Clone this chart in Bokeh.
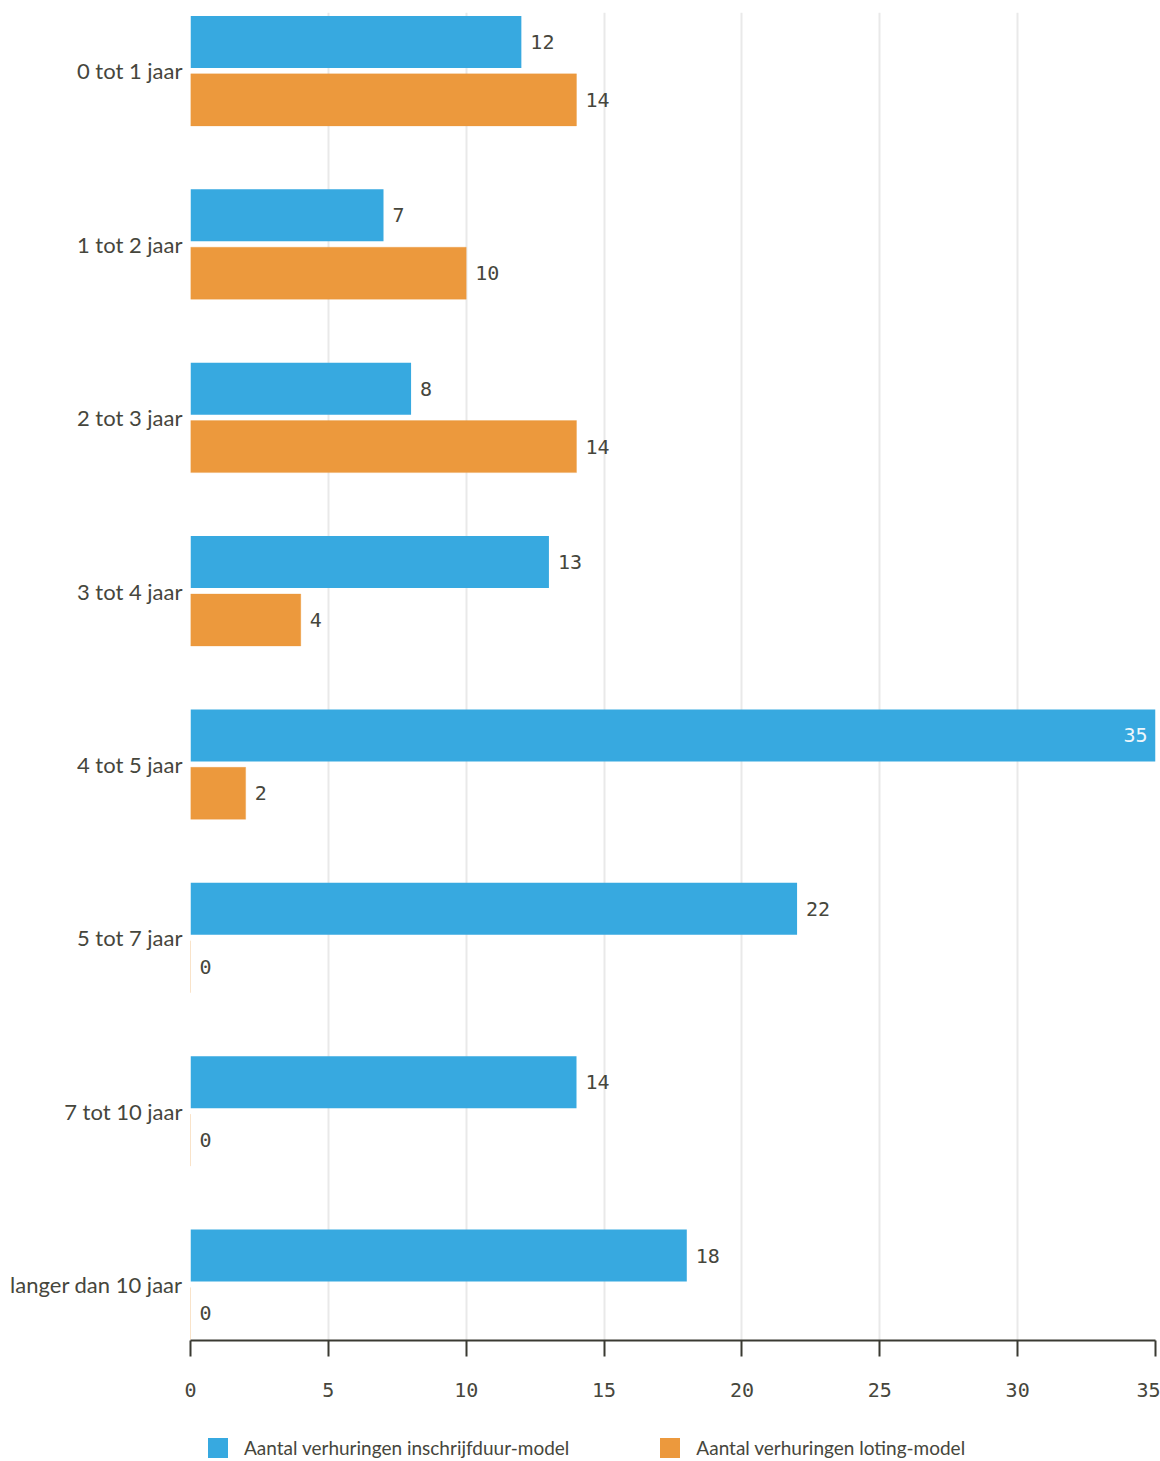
from bokeh.plotting import figure
from bokeh.models import (Range1d, FixedTicker, ColumnDataSource, Legend, LegendItem)
from bokeh.layouts import column
from bokeh.core.properties import value
from bokeh.embed import file_html
from bokeh.resources import INLINE

categories = ["0 tot 1 jaar", "1 tot 2 jaar", "2 tot 3 jaar", "3 tot 4 jaar",
              "4 tot 5 jaar", "5 tot 7 jaar", "7 tot 10 jaar", "langer dan 10 jaar"]
inschrijfduur = [12, 7, 8, 13, 35, 22, 14, 18]
loting = [14, 10, 14, 4, 2, 0, 0, 0]
series_names = ["Aantal verhuringen inschrijfduur-model", "Aantal verhuringen loting-model"]
x_ticks = [0, 5, 10, 15, 20, 25, 30, 35]

BLUE = "#37a9e0"
ORANGE = "#ec993d"
TXT = "#46463c"
XMAX = 35

pos = list(range(len(categories)))
off = 0.167
bh = 0.30

p = figure(width=1160, height=1421, output_backend="svg", toolbar_location=None,
           x_range=Range1d(0, XMAX), y_range=Range1d(7.323, -0.337),
           min_border_left=190, min_border_right=5, min_border_top=12, min_border_bottom=81)
p.outline_line_color = None
p.background_fill_color = "white"

src_b = ColumnDataSource(dict(y=[i - off for i in pos], v=inschrijfduur))
src_o = ColumnDataSource(dict(y=[i + off for i in pos], v=loting))

p.hbar(y="y", right="v", left=0, height=bh, source=src_b,
       fill_color=BLUE, line_color=None)
p.hbar(y="y", right="v", left=0, height=bh, source=src_o,
       fill_color=ORANGE, line_color=ORANGE, line_alpha=0.3, line_width=1)

def split(vals, ys):
    outside = dict(x=[], y=[], t=[])
    inside = dict(x=[], y=[], t=[])
    for v, y in zip(vals, ys):
        d = inside if v > 0.9 * XMAX else outside
        d["x"].append(v); d["y"].append(y); d["t"].append(str(v))
    return outside, inside

ob, ib = split(inschrijfduur, src_b.data["y"])
oo, io = split(loting, src_o.data["y"])
out = {k: ob[k] + oo[k] for k in ob}
ins = {k: ib[k] + io[k] for k in ib}

p.text(x="x", y="y", text="t", source=ColumnDataSource(out), x_offset=9,
       text_align="left", text_baseline="middle", text_font=value("DejaVu Sans Mono"),
       text_font_size="20px", text_color=TXT)
p.text(x="x", y="y", text="t", source=ColumnDataSource(ins), x_offset=-8,
       text_align="right", text_baseline="middle", text_font=value("DejaVu Sans Mono"),
       text_font_size="20px", text_color="#eef7fc")

# x axis
p.xaxis.ticker = FixedTicker(ticks=x_ticks)
p.xaxis.axis_line_color = "#3a3a32"
p.xaxis.axis_line_width = 2
p.xaxis.major_tick_line_color = "#3a3a32"
p.xaxis.major_tick_line_width = 2
p.xaxis.major_tick_out = 16
p.xaxis.major_tick_in = 0
p.xaxis.minor_tick_line_color = None
p.xaxis.major_label_standoff = 26
p.xaxis.major_label_text_font = "DejaVu Sans Mono"
p.xaxis.major_label_text_font_size = "20px"
p.xaxis.major_label_text_color = TXT

# y axis
p.yaxis.ticker = FixedTicker(ticks=pos)
p.yaxis.major_label_overrides = {i: c for i, c in enumerate(categories)}
p.yaxis.axis_line_color = None
p.yaxis.major_tick_line_color = None
p.yaxis.minor_tick_line_color = None
p.yaxis.major_label_standoff = 2
p.yaxis.major_label_text_font = "Lato"
p.yaxis.major_label_text_font_size = "22px"
p.yaxis.major_label_text_color = TXT

p.xgrid.ticker = FixedTicker(ticks=x_ticks)
p.xgrid.grid_line_color = "#e9e9e9"
p.xgrid.grid_line_width = 2
p.ygrid.grid_line_color = None

# legend strip below the chart (its swatch renderers sit outside the visible range)
lg = figure(width=1160, height=40, output_backend="svg", toolbar_location=None,
            x_range=Range1d(0, 1), y_range=Range1d(0, 1),
            x_axis_type=None, y_axis_type=None,
            min_border_left=190, min_border_right=5, min_border_top=0, min_border_bottom=0)
lg.outline_line_color = None
lg.xgrid.grid_line_color = None
lg.ygrid.grid_line_color = None
sw_b = lg.hbar(y="y", right="v", left=0, height=bh,
               source=ColumnDataSource(dict(y=[-5], v=[1])), fill_color=BLUE, line_color=None)
sw_o = lg.hbar(y="y", right="v", left=0, height=bh,
               source=ColumnDataSource(dict(y=[-5], v=[1])), fill_color=ORANGE, line_color=None)

legend = Legend(items=[LegendItem(label=series_names[0], renderers=[sw_b]),
                       LegendItem(label=series_names[1], renderers=[sw_o])],
                orientation="horizontal", location=(15, 1),
                glyph_width=25, glyph_height=25, label_standoff=14, spacing=88,
                label_text_font="Lato", label_text_font_size="19px",
                label_text_color=TXT, border_line_color=None,
                background_fill_alpha=0, padding=0, margin=0)
lg.add_layout(legend, "center")

layout = column(p, lg, spacing=0)
open("out.html", "w").write(file_html(layout, INLINE))
